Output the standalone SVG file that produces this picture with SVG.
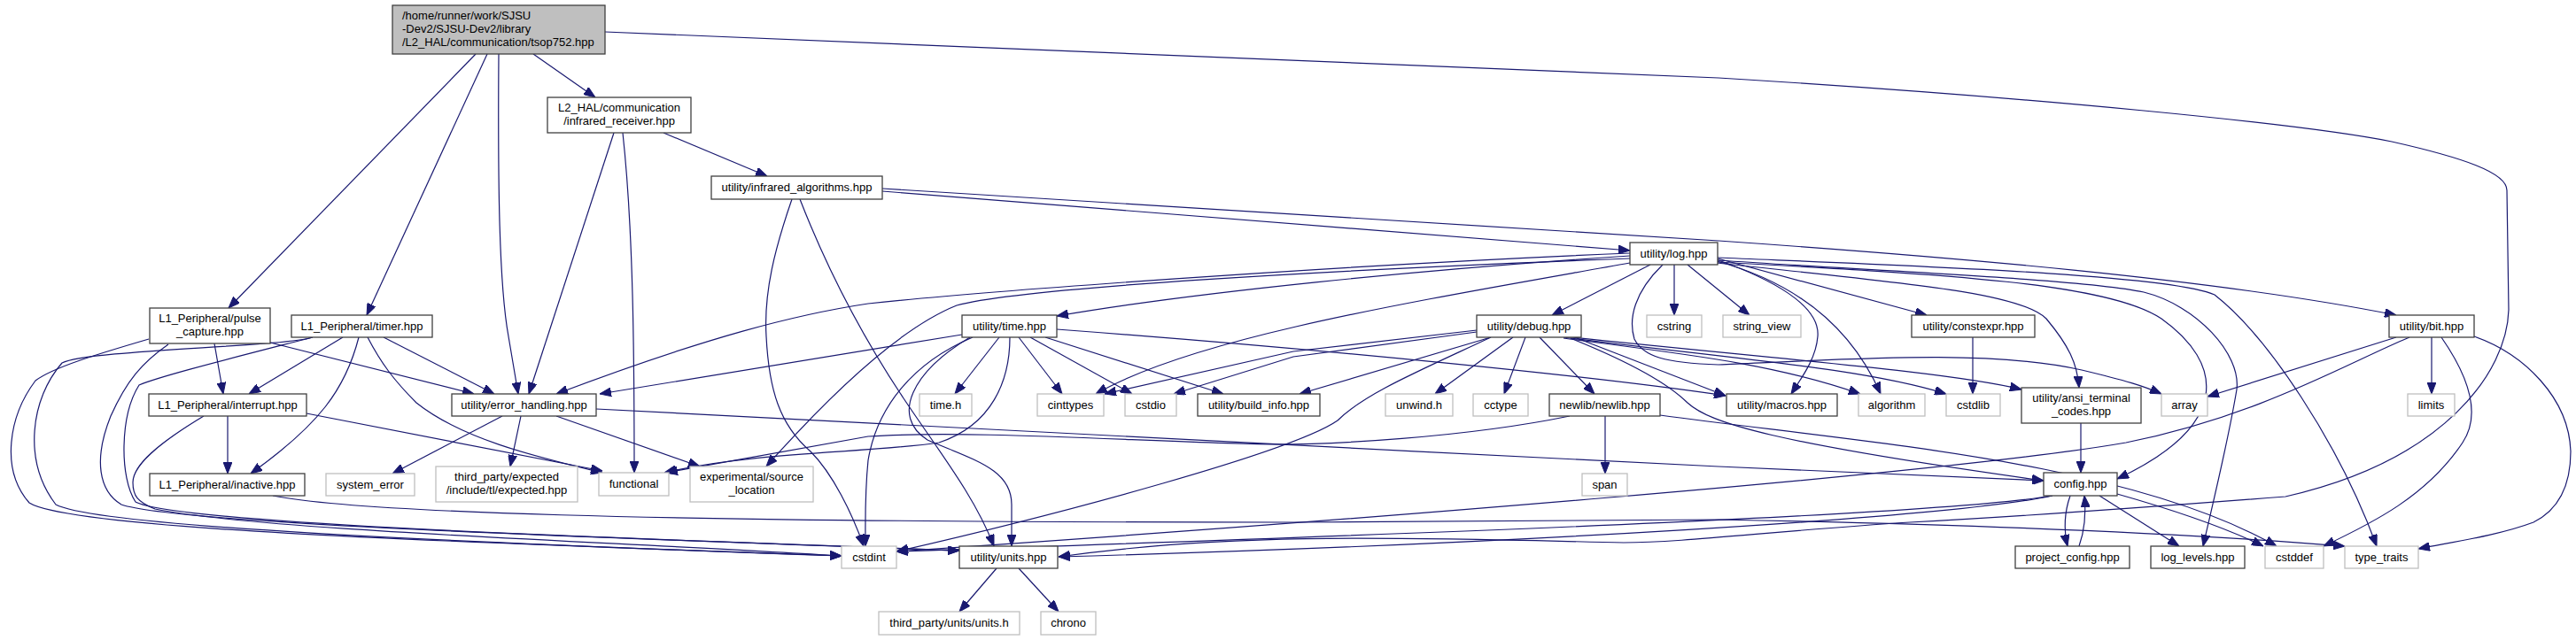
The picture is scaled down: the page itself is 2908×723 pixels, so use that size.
<svg xmlns="http://www.w3.org/2000/svg" width="2908" height="723" viewBox="0 0 2908 723">
<defs>
<marker id="ah" markerUnits="userSpaceOnUse" markerWidth="13" markerHeight="10" refX="13" refY="5" orient="auto">
<path d="M0,0 L13,5 L0,10 z" fill="#191970" stroke="#191970" stroke-width="1"/>
</marker>
<style>
.n rect{fill:#ffffff;stroke:#404040;stroke-width:1.3}
.g rect{fill:#ffffff;stroke:#bfbfbf;stroke-width:1.3}
.r rect{fill:#bfbfbf;stroke:#404040;stroke-width:1.3}
text{font-family:"Liberation Sans",Arial,Helvetica,sans-serif;font-size:13px;fill:#000000;text-anchor:middle}
.r text{text-anchor:start}
#edges path{fill:none;stroke:#191970;stroke-width:1.2;marker-end:url(#ah)}
</style>
</defs>
<rect x="0" y="0" width="2908" height="723" fill="#ffffff"/>
<g id="edges">
<path d="M537,61 L258,348"/>
<path d="M550,61 L414,356"/>
<path d="M563,61 C562,200 563,320 574,380 L585,445"/>
<path d="M602,61 L672,110"/>
<path d="M683,36 L1940,88 C2300,110 2600,140 2700,160 C2780,178 2830,195 2830,215 L2832,350 C2830,420 2760,520 2580,561 C2400,575 2250,585 2156,590 C2000,600 1900,613 1833,613 C1600,608 1400,600 1195,629"/>
<path d="M693,150 L597,445"/>
<path d="M703,150 C715,260 716,400 716,534"/>
<path d="M749,150 L866,199"/>
<path d="M996,216 L1840,283"/>
<path d="M996,213 L1940,272 C2200,290 2500,315 2705,356"/>
<path d="M894,225 C875,280 862,330 865,380 C868,440 880,480 915,510 C940,535 962,580 975,617"/>
<path d="M903,225 C940,320 980,390 1020,450 C1060,510 1100,560 1122,617"/>
<path d="M242,388 L252,445"/>
<path d="M305,387 L535,445"/>
<path d="M168,383 C110,400 60,415 40,430 C10,470 0,530 33,568 C80,598 500,612 950,628"/>
<path d="M190,389 C160,410 143,430 125,470 C105,520 112,555 137,570 C200,592 700,608 1083,622"/>
<path d="M353,381 C320,392 100,395 70,410 C35,450 25,520 63,570 C110,595 500,612 950,628"/>
<path d="M353,381 C260,405 180,425 157,435 C135,470 135,540 153,567 C200,592 700,608 1083,622"/>
<path d="M387,381 L281,445"/>
<path d="M405,381 C390,440 360,480 283,535"/>
<path d="M433,381 L558,445"/>
<path d="M415,381 C430,410 445,430 470,455 C520,495 600,515 680,534"/>
<path d="M257,470 L257,535"/>
<path d="M346,467 L680,532"/>
<path d="M230,470 C180,500 150,525 150,545 C150,560 155,567 175,575 C300,600 700,612 950,628"/>
<path d="M308,560 C400,578 700,590 1460,590 L1940,587 C2100,590 2400,597 2647,617"/>
<path d="M567,470 L443,535"/>
<path d="M588,470 L576,527"/>
<path d="M628,470 L790,527"/>
<path d="M673,462 C1000,480 1500,505 1940,527 L2307,543"/>
<path d="M1086,378 L677,445"/>
<path d="M1128,381 L1078,445"/>
<path d="M1150,381 L1199,445"/>
<path d="M1163,381 L1278,445"/>
<path d="M1180,381 L1381,445"/>
<path d="M1193,372 C1500,395 1800,425 1948,447"/>
<path d="M1098,381 C1030,410 990,460 980,520 C976,560 977,590 977,617"/>
<path d="M1095,381 C1030,420 1005,470 1047,497 C1100,520 1142,530 1142,570 L1142,617"/>
<path d="M1140,381 C1140,430 1120,480 1060,500 C980,512 850,510 750,534"/>
<path d="M1125,642 L1083,691"/>
<path d="M1150,642 L1195,691"/>
<path d="M1840,286 C1500,300 1100,330 980,343 C900,355 800,380 628,445"/>
<path d="M1840,289 C1600,305 1350,330 1193,357"/>
<path d="M1863,299 L1752,356"/>
<path d="M1890,299 L1890,356"/>
<path d="M1905,299 L1975,356"/>
<path d="M1939,292 L2175,356"/>
<path d="M1937,293 C2000,315 2055,345 2052,380 C2050,405 2035,425 2022,445"/>
<path d="M1938,295 C2030,320 2090,370 2123,445"/>
<path d="M1938,297 C2150,320 2280,330 2310,360 C2335,390 2345,410 2347,438"/>
<path d="M1939,294 C2100,305 2350,315 2420,330 C2480,345 2530,400 2525,440 C2515,500 2500,560 2487,617"/>
<path d="M1939,291 C2150,300 2450,310 2500,333 C2560,380 2640,500 2683,617"/>
<path d="M1939,296 C2200,310 2380,320 2440,360 C2510,410 2520,480 2390,541"/>
<path d="M1877,299 C1845,330 1838,360 1845,383 C1855,403 1880,410 1940,412 C2100,405 2250,395 2350,418 C2400,430 2420,436 2440,445"/>
<path d="M1840,297 C1600,340 1350,380 1237,445"/>
<path d="M1840,292 C1500,305 1150,325 1080,345 C1030,365 960,420 865,527"/>
<path d="M1683,381 L1467,445"/>
<path d="M1708,381 L1620,445"/>
<path d="M1722,381 L1698,445"/>
<path d="M1738,381 L1800,445"/>
<path d="M1667,373 L1460,397 L1247,445"/>
<path d="M1667,375 L1460,403 L1325,445"/>
<path d="M1780,382 L1948,447"/>
<path d="M1765,382 C1900,400 2000,410 2100,445"/>
<path d="M1765,381 C1950,405 2100,415 2197,445"/>
<path d="M1765,380 C2000,405 2200,420 2282,440"/>
<path d="M1773,382 C1830,405 1880,430 1905,455 C1930,478 2000,500 2307,543"/>
<path d="M1683,381 C1600,420 1540,445 1510,475 C1460,510 1200,580 1012,623"/>
<path d="M1772,470 C1650,495 1500,502 1440,502 C1300,500 1100,485 980,493 L752,534"/>
<path d="M1812,470 L1812,535"/>
<path d="M1874,469 C2100,500 2400,520 2570,617"/>
<path d="M2227,381 L2227,445"/>
<path d="M2349,478 L2349,534"/>
<path d="M2337,560 C2330,580 2330,600 2334,617"/>
<path d="M2347,617 C2353,600 2355,580 2353,560"/>
<path d="M2370,560 L2460,617"/>
<path d="M2390,558 C2450,575 2510,595 2555,617"/>
<path d="M2317,560 C2200,580 1700,600 1012,623"/>
<path d="M2317,560 C2200,585 1700,615 1195,629"/>
<path d="M2705,381 L2492,448"/>
<path d="M2720,381 C2650,410 2550,470 2400,500 C2200,535 1500,590 1012,623"/>
<path d="M2745,381 L2745,445"/>
<path d="M2756,381 C2790,430 2800,470 2780,500 C2740,560 2680,590 2623,617"/>
<path d="M2793,380 C2850,400 2900,450 2902,510 C2902,560 2880,580 2860,590 C2820,605 2770,612 2730,620"/>
</g>
<g id="root" class="r"><rect x="443" y="6" width="240" height="55"/><text x="454" y="22">/home/runner/work/SJSU</text><text x="454" y="37">-Dev2/SJSU-Dev2/library</text><text x="454" y="52">/L2_HAL/communication/tsop752.hpp</text></g>
<g id="infrared_receiver" class="n"><rect x="618" y="110" width="162" height="40"/><text x="699" y="126">L2_HAL/communication</text><text x="699" y="141">/infrared_receiver.hpp</text></g>
<g id="infrared_algorithms" class="n"><rect x="803" y="199" width="193" height="26"/><text x="899.5" y="216">utility/infrared_algorithms.hpp</text></g>
<g id="pulse_capture" class="n"><rect x="169" y="348" width="136" height="40"/><text x="237" y="364">L1_Peripheral/pulse</text><text x="237" y="379">_capture.hpp</text></g>
<g id="timer" class="n"><rect x="329" y="356" width="159" height="25"/><text x="408.5" y="373">L1_Peripheral/timer.hpp</text></g>
<g id="interrupt" class="n"><rect x="168" y="445" width="178" height="25"/><text x="257" y="462">L1_Peripheral/interrupt.hpp</text></g>
<g id="inactive" class="n"><rect x="169" y="535" width="175" height="25"/><text x="256.5" y="552">L1_Peripheral/inactive.hpp</text></g>
<g id="system_error" class="g"><rect x="368" y="535" width="100" height="25"/><text x="418" y="552">system_error</text></g>
<g id="error_handling" class="n"><rect x="510" y="445" width="163" height="25"/><text x="591.5" y="462">utility/error_handling.hpp</text></g>
<g id="expected" class="g"><rect x="492" y="527" width="160" height="40"/><text x="572" y="543">third_party/expected</text><text x="572" y="558">/include/tl/expected.hpp</text></g>
<g id="functional" class="g"><rect x="676" y="534" width="79" height="26"/><text x="715.5" y="551">functional</text></g>
<g id="source_location" class="g"><rect x="779" y="527" width="139" height="40"/><text x="848.5" y="543">experimental/source</text><text x="848.5" y="558">_location</text></g>
<g id="cstdint" class="g"><rect x="950" y="617" width="62" height="25"/><text x="981" y="634">cstdint</text></g>
<g id="units" class="n"><rect x="1083" y="617" width="111" height="25"/><text x="1138.5" y="634">utility/units.hpp</text></g>
<g id="units_h" class="g"><rect x="992" y="691" width="159" height="26"/><text x="1071.5" y="708">third_party/units/units.h</text></g>
<g id="chrono" class="g"><rect x="1175" y="691" width="62" height="26"/><text x="1206" y="708">chrono</text></g>
<g id="time" class="n"><rect x="1086" y="356" width="107" height="25"/><text x="1139.5" y="373">utility/time.hpp</text></g>
<g id="time_h" class="g"><rect x="1038" y="445" width="59" height="25"/><text x="1067.5" y="462">time.h</text></g>
<g id="cinttypes" class="g"><rect x="1171" y="445" width="75" height="25"/><text x="1208.5" y="462">cinttypes</text></g>
<g id="cstdio" class="g"><rect x="1270" y="445" width="58" height="25"/><text x="1299" y="462">cstdio</text></g>
<g id="build_info" class="n"><rect x="1352" y="445" width="138" height="25"/><text x="1421" y="462">utility/build_info.hpp</text></g>
<g id="log" class="n"><rect x="1840" y="274" width="99" height="25"/><text x="1889.5" y="291">utility/log.hpp</text></g>
<g id="debug" class="n"><rect x="1667" y="356" width="118" height="25"/><text x="1726" y="373">utility/debug.hpp</text></g>
<g id="cstring" class="g"><rect x="1859" y="356" width="62" height="25"/><text x="1890" y="373">cstring</text></g>
<g id="string_view" class="g"><rect x="1945" y="356" width="88" height="25"/><text x="1989" y="373">string_view</text></g>
<g id="constexpr" class="n"><rect x="2158" y="356" width="139" height="25"/><text x="2227.5" y="373">utility/constexpr.hpp</text></g>
<g id="bit" class="n"><rect x="2697" y="356" width="96" height="25"/><text x="2745" y="373">utility/bit.hpp</text></g>
<g id="unwind" class="g"><rect x="1564" y="445" width="76" height="25"/><text x="1602" y="462">unwind.h</text></g>
<g id="cctype" class="g"><rect x="1663" y="445" width="62" height="25"/><text x="1694" y="462">cctype</text></g>
<g id="newlib" class="n"><rect x="1749" y="445" width="125" height="25"/><text x="1811.5" y="462">newlib/newlib.hpp</text></g>
<g id="span" class="g"><rect x="1786" y="535" width="51" height="25"/><text x="1811.5" y="552">span</text></g>
<g id="macros" class="n"><rect x="1949" y="445" width="125" height="25"/><text x="2011.5" y="462">utility/macros.hpp</text></g>
<g id="algorithm" class="g"><rect x="2098" y="445" width="75" height="25"/><text x="2135.5" y="462">algorithm</text></g>
<g id="cstdlib" class="g"><rect x="2197" y="445" width="61" height="25"/><text x="2227.5" y="462">cstdlib</text></g>
<g id="ansi" class="n"><rect x="2282" y="438" width="135" height="40"/><text x="2349.5" y="454">utility/ansi_terminal</text><text x="2349.5" y="469">_codes.hpp</text></g>
<g id="array" class="g"><rect x="2440" y="445" width="52" height="25"/><text x="2466" y="462">array</text></g>
<g id="limits" class="g"><rect x="2718" y="445" width="53" height="25"/><text x="2744.5" y="462">limits</text></g>
<g id="config" class="n"><rect x="2307" y="534" width="83" height="26"/><text x="2348.5" y="551">config.hpp</text></g>
<g id="project_config" class="n"><rect x="2275" y="617" width="129" height="25"/><text x="2339.5" y="634">project_config.hpp</text></g>
<g id="log_levels" class="n"><rect x="2428" y="617" width="106" height="25"/><text x="2481" y="634">log_levels.hpp</text></g>
<g id="cstddef" class="g"><rect x="2557" y="617" width="66" height="25"/><text x="2590" y="634">cstddef</text></g>
<g id="type_traits" class="g"><rect x="2647" y="617" width="83" height="25"/><text x="2688.5" y="634">type_traits</text></g>
</svg>
